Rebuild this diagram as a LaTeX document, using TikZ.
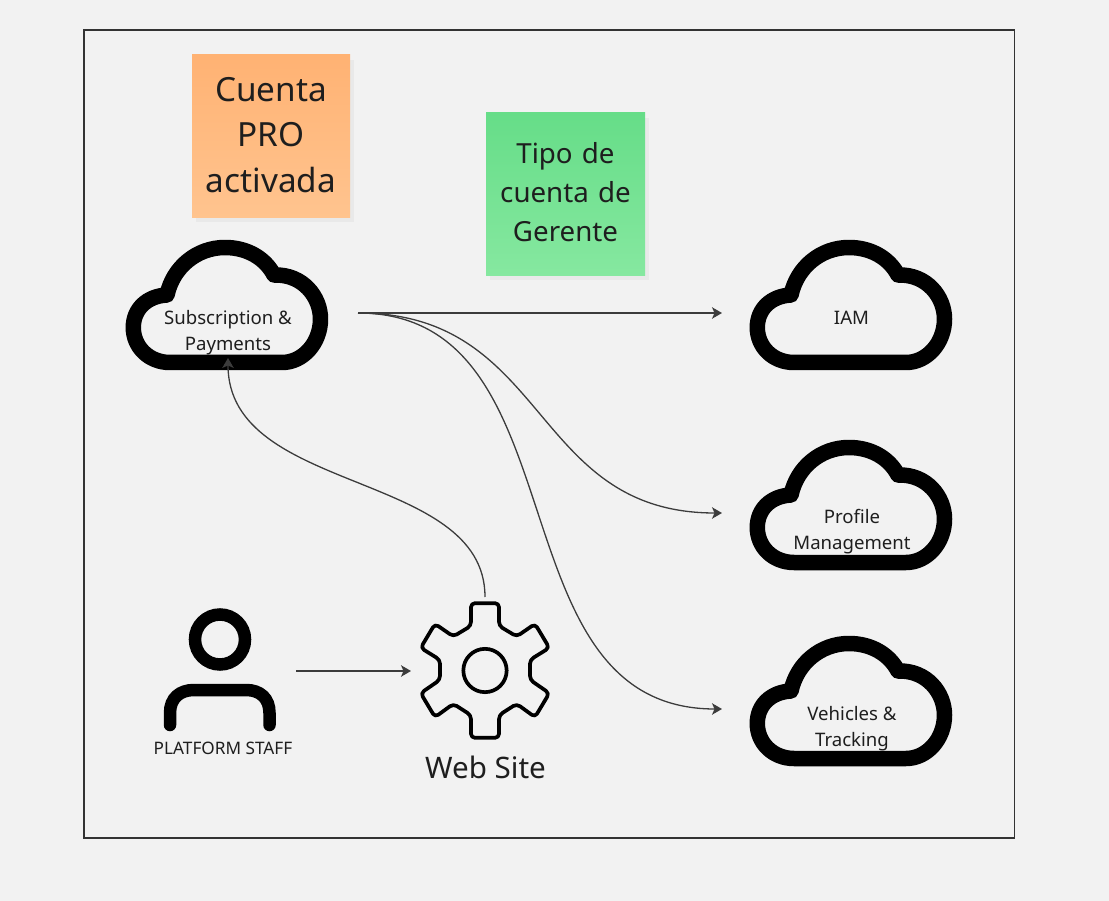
\documentclass[tikz,border=0pt]{standalone}
\usepackage{fontspec}
\setmainfont{Noto Sans}
\usetikzlibrary{arrows.meta}
\definecolor{bgc}{HTML}{F2F2F2}
\definecolor{ink}{HTML}{1E1E1E}
\definecolor{wire}{HTML}{3C3C3C}
\tikzset{
  x=1pt,y=-1pt,
  lbl/.style={text=ink,align=center,font=\fontsize{18.6}{26}\selectfont,inner sep=0pt},
  note/.style={text=ink,align=center,inner sep=0pt,minimum width=159pt,text width=159pt},
  wirec/.style={draw=wire,line width=1.3pt,-{Stealth[length=10pt,width=11.5pt,inset=2.5pt]}},
  icon/.style={draw=black,line width=15.5pt,line join=round},
  pics/cloud/.style={code={
    \draw[icon] (-57,57.5) .. controls (-78,57.5) and (-93.7,42) .. (-93.7,22.5)
      .. controls (-93.7,4) and (-80,-9) .. (-60,-10)
      .. controls (-54,-38) and (-30,-57.5) .. (-2,-57.5)
      .. controls (20,-57.5) and (38,-47) .. (47,-30)
      .. controls (76,-31) and (93.5,-8) .. (93.5,14)
      .. controls (93.5,38) and (76,57.5) .. (55,57.5) -- cycle;
  }}
}
\begin{document}
\begin{tikzpicture}
\useasboundingbox (0,0) rectangle (1109,901);
\fill[bgc] (0,0) rectangle (1109,901);
\draw[draw=black!80,line width=1.3pt,fill=bgc] (83.9,30.1) rectangle (1014.7,838);

% sticky notes
\fill[black,opacity=.035] (196,60) rectangle (354,222);
\fill[black,opacity=.035] (490,118) rectangle (649,280);
\shade[top color={rgb,255:red,255;green,178;blue,115},bottom color={rgb,255:red,255;green,196;blue,143}] (192,54.5) rectangle (350,218);
\shade[top color={rgb,255:red,102;green,221;blue,136},bottom color={rgb,255:red,134;green,232;blue,160}] (486,112.5) rectangle (645,276);
\node[note,font=\fontsize{33.3}{45.5}\selectfont] (pro) at (271,135) {Cuenta\\PRO\\activada};
\node[note,font=\fontsize{27.7}{39}\selectfont] (tipo) at (565.5,192) {Tipo de\\cuenta de\\Gerente};

% clouds
\pic at (227,305) {cloud};
\pic at (851,305) {cloud};
\pic at (851,505) {cloud};
\pic at (851,701) {cloud};
\node[lbl] (sub) at (228,333) {Subscription \&\\Payments};
\node[lbl] (iam) at (851.5,318) {IAM};
\node[lbl] (prof) at (852,532) {Profile\\Management};
\node[lbl] (veh) at (852,729) {Vehicles \&\\Tracking};

% person
\draw[draw=black,line width=12.5pt] (220,639.5) circle (25);
\draw[draw=black,line width=12.5pt,line cap=round] (170,725) -- (170,713)
  .. controls (170,698) and (180,690) .. (194,690) -- (246,690)
  .. controls (260,690) and (269.5,698) .. (269.5,713) -- (269.5,725);
\node[inner sep=0pt,text=ink,font=\fontsize{17.2}{20}\selectfont] (staff) at (223,748) {PLATFORM STAFF};

% gear
\begin{scope}[shift={(485,670.5)},scale=0.3333]
\draw[draw=black,line width=3.7pt,line join=round,rounded corners=4pt]
  (-42,-134) -- (-42,-202) -- (42,-202) -- (42,-134) -- (95,-102) -- (150,-140) -- (193,-68)
  -- (135,-32) -- (135,28) -- (193,68) -- (150,140) -- (95,100) -- (42,134) -- (42,202)
  -- (-42,202) -- (-42,134) -- (-95,100) -- (-150,140) -- (-193,68) -- (-135,28) -- (-135,-32)
  -- (-193,-68) -- (-150,-140) -- (-95,-102) -- cycle;
\draw[draw=black,line width=3.7pt] (0,0) circle (65);
\end{scope}
\node[inner sep=0pt,text=ink,font=\fontsize{29.6}{34}\selectfont] (web) at (485.5,767.5) {Web Site};

% connector ends
\coordinate (subOut) at (358,313);
\coordinate (subIn) at (228,358);
\coordinate (iamIn) at (722,313);
\coordinate (profIn) at (722,513);
\coordinate (vehIn) at (722,709);
\coordinate (webTop) at (485,597);
\coordinate (webIn) at (411,671);
\coordinate (staffOut) at (296,671);

\draw[wirec] (subOut) -- (iamIn);
\draw[wirec] (subOut) .. controls (550,313) and (530,513) .. (profIn);
\draw[wirec] (subOut) .. controls (585,313) and (490,709) .. (vehIn);
\draw[wirec] (webTop) .. controls (485,470) and (228,495) .. (subIn);
\draw[wirec] (staffOut) -- (webIn);
\end{tikzpicture}
\end{document}
